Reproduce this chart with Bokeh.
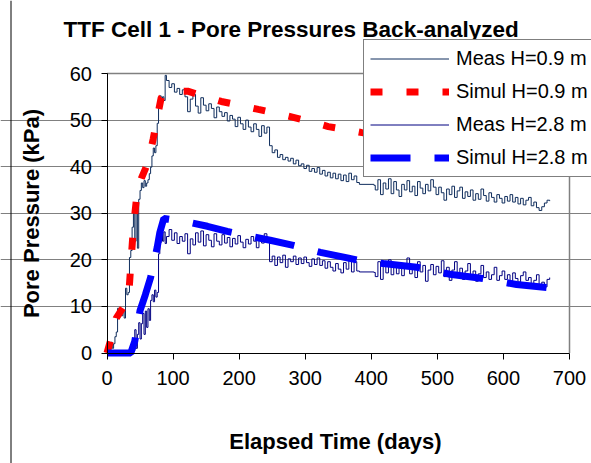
import math
from bokeh.plotting import figure
from bokeh.models import (Range1d, FixedTicker, Legend, LegendItem, Label, Span)
from bokeh.embed import file_html
from bokeh.resources import INLINE

# ---------------- data ----------------
x_ticks = [0, 100, 200, 300, 400, 500, 600, 700]
y_ticks = [0, 10, 20, 30, 40, 50, 60]

meas_days = [
    0, 2, 4, 6, 8, 10, 12, 14, 16, 18,
    20, 22, 24, 26, 28, 30, 32, 34, 36, 38,
    40, 42, 44, 46, 48, 50, 52, 54, 56, 58,
    60, 62, 64, 66, 68, 70, 72, 74, 76, 78,
    80, 82, 84, 86, 88,
    90, 94, 98, 102, 106, 110, 114, 118, 122, 126,
    130, 134, 138, 142, 146, 150, 154, 158, 162, 166,
    170, 174, 178, 182, 186, 190, 194, 198, 202, 206,
    210, 214, 218, 222, 226, 230, 234, 238, 242, 246,
    250, 254, 258, 262, 266, 270, 274, 278, 282, 286,
    290, 294, 298, 302, 306, 310, 314, 318, 322, 326,
    330, 334, 338, 342, 346, 350, 354, 358, 362, 366,
    370, 374, 378,
    382, 404,
    406, 410, 414, 418, 422, 426, 430, 434, 438, 442,
    446, 450, 454, 458, 462, 466, 470, 474, 478, 482,
    486, 490, 494, 498, 502, 506, 510, 514, 518, 522,
    526, 530, 534, 538, 542, 546, 550, 554, 558, 562,
    566, 570, 574, 578, 582, 586, 590, 594, 598, 602,
    606, 610, 614, 618, 622, 626, 630, 634, 638, 642,
    646, 650, 654, 658, 662, 666, 670,
]

meas_h09 = [
    0.5, 1.5, 0.8, 2.3, 1.0, 2.0, 3.5, 4.5, 9.6, 7.8,
    9.3, 8.0, 9.0, 7.5, 13.9, 12.5, 13.0, 20.5, 22.0, 27.0,
    31.0, 24.0, 32.0, 22.5, 33.0, 34.9, 36.5, 35.5, 37.0, 35.8,
    36.5, 37.2, 38.5, 39.9, 42.3, 44.0, 43.0, 44.5, 49.3, 53.8,
    55.2, 54.0, 55.0, 54.2, 59.6,
    58.5, 57.0, 57.8, 56.0, 56.8, 55.5, 56.5, 55.0, 51.8, 54.5,
    55.5, 53.0, 51.5, 54.8, 53.2, 52.0, 53.5, 52.5, 50.5, 52.8,
    51.8, 50.8, 51.6, 49.8, 51.0, 50.2, 48.6, 50.6, 49.2, 48.0,
    50.0, 48.5, 47.5, 49.2, 48.0, 46.5, 48.8, 47.2, 48.5, 44.5,
    43.0, 43.6, 42.0, 42.6, 41.5, 42.0, 41.2, 41.8, 40.6, 41.4,
    40.2, 40.6, 39.6, 40.3, 39.0, 39.6, 38.8, 39.8, 38.4, 39.2,
    38.0, 38.8, 37.6, 38.6, 37.4, 38.4, 37.0, 38.2, 36.8, 38.6,
    37.2, 38.0, 36.6,
    36.2, 36.0,
    35.0, 37.2, 34.0, 36.5, 35.2, 37.4, 34.2, 36.8, 35.0, 33.6,
    36.2, 35.0, 37.0, 34.6, 35.8, 33.8, 36.8, 35.4, 34.2, 36.2,
    34.8, 37.2, 35.6, 34.0, 35.6, 34.4, 32.8, 35.2, 34.0, 35.8,
    33.4, 34.8, 35.6, 33.2, 34.6, 33.6, 35.0, 32.8, 34.2, 33.0,
    35.2, 33.8, 32.6, 34.4, 33.4, 32.4, 34.0, 33.2, 32.2, 33.6,
    32.6, 34.0, 32.4, 33.4, 32.0, 33.2, 31.8, 32.8, 33.4, 31.6,
    32.4, 31.2, 30.6, 31.4, 32.2, 32.8, 32.6,
]

meas_h28 = [
    0.3, 0.0, 0.5, 0.0, 0.4, 0.0, 0.3, 0.0, 0.5, 0.2,
    0.0, 0.4, 0.0, 0.3, 0.0, 0.5, 0.2, 0.0, 0.6, 2.5,
    0.5, 5.0, 1.0, 4.0, 6.5, 3.0, 6.3, 8.5, 4.0, 9.0,
    5.5, 9.5, 7.0, 11.3, 12.5, 11.0, 13.5, 12.0, 13.0, 21.3,
    23.7, 25.5, 24.0, 26.0, 23.5,
    25.0, 26.5, 24.2, 25.8, 23.5, 25.0, 24.0, 25.6, 21.3, 24.5,
    23.2, 25.8, 23.8, 26.2, 23.0, 25.4, 24.2, 22.8, 25.6, 24.0,
    23.2, 25.4, 23.6, 24.8, 22.8, 24.6, 23.4, 25.2, 23.8, 22.6,
    24.4, 23.4, 25.0, 24.0, 22.6, 24.8, 23.6, 25.6, 24.6, 19.6,
    20.8, 18.8, 20.6, 19.4, 21.0, 18.4, 20.2, 19.6, 20.8, 19.0,
    20.4, 19.2, 20.6, 19.4, 18.6, 20.2, 19.0, 20.4, 18.8, 19.8,
    18.2, 19.6, 18.4, 17.6, 19.2, 18.0, 17.2, 19.4, 18.0, 20.0,
    17.4, 19.6, 17.6,
    17.4, 17.3,
    16.4, 19.6, 15.8, 18.6, 17.2, 20.0, 16.8, 18.4, 17.0, 19.4,
    16.6, 18.2, 20.4, 17.0, 18.6, 16.2, 19.6, 17.4, 18.8, 15.4,
    17.8, 19.0, 16.8, 18.6, 17.2, 19.8, 16.4, 18.4, 15.6, 17.8,
    19.6, 16.6, 18.2, 15.8, 17.6, 19.2, 16.4, 17.6, 15.4, 17.0,
    18.8, 16.2, 17.4, 15.8, 16.8, 18.4, 15.6, 16.6, 17.6, 15.8,
    16.8, 15.4, 17.2, 16.0, 15.2, 16.6, 17.4, 15.6, 16.2, 14.8,
    15.6, 16.8, 14.6, 15.2, 14.2, 15.8, 16.2,
]

simul09_days = [0, 8, 14, 20, 28, 33, 36, 40, 46, 52,
                58, 64, 70, 76, 82, 88, 100, 122, 150, 173,
                200, 229, 255, 282, 310, 335, 360, 386, 430, 480,
                530, 580, 630, 670]
simul09_kpa = [0, 4, 7.5, 8.8, 10.5, 12.5, 19.0, 27.0, 35.0, 37.5,
               39.5, 42.0, 46.0, 50.5, 54.8, 55.6, 56.2, 56.2, 55.0, 54.0,
               53.2, 52.3, 51.5, 50.6, 49.6, 48.6, 48.0, 47.3, 46.2, 45.0,
               43.8, 42.8, 41.8, 41.2]

simul28_days = [0, 20, 36, 42, 50, 58, 66, 76, 80, 86,
                100, 126, 152, 182, 222, 247, 282, 323, 378, 418,
                469, 519, 569, 620, 670]
simul28_kpa = [0, 0, 0, 2.5, 9.1, 12.5, 16.2, 22.7, 25.9, 28.9,
               28.6, 28.0, 27.2, 26.1, 24.9, 24.2, 23.1, 21.6, 20.0, 19.2,
               18.4, 16.9, 16.0, 14.7, 14.0]

series_names = ["Meas H=0.9 m", "Simul H=0.9 m", "Meas H=2.8 m", "Simul H=2.8 m"]
title_text = "TTF Cell 1 - Pore Pressures Back-analyzed"
x_title = "Elapsed Time (days)"
y_title = "Pore Pressure (kPa)"

# ---------------- layout (pixel geometry of the plot area) ----------------
W, H = 591, 463
FRAME_L, FRAME_R, FRAME_T, FRAME_B = 106.5, 569.0, 73.0, 352.5
X_MIN, X_MAX, Y_MIN, Y_MAX = 0, 700, 0, 60
SX = (FRAME_R - FRAME_L) / (X_MAX - X_MIN)
SY = (FRAME_B - FRAME_T) / (Y_MAX - Y_MIN)
X_START = X_MIN - FRAME_L / SX
X_END = X_START + W / SX
Y_TOP = Y_MAX + FRAME_T / SY
Y_BOT = Y_TOP - H / SY


def dx(px):
    return X_START + px / SX


def dy(py):
    return Y_TOP - py / SY


FONT = "Liberation Sans"

p = figure(width=W, height=H, output_backend="svg", toolbar_location=None,
           x_range=Range1d(X_START, X_END), y_range=Range1d(Y_BOT, Y_TOP),
           min_border=0, min_border_left=0, min_border_right=0,
           min_border_top=0, min_border_bottom=0)
p.background_fill_color = "white"
p.border_fill_color = "white"
p.outline_line_color = None

p.xgrid.visible = False
# inner grid lines; the top edge (60) is drawn by the plot-area border below
p.ygrid.ticker = FixedTicker(ticks=y_ticks[1:-1])
p.ygrid.bounds = (X_MIN, X_MAX)
p.ygrid.grid_line_color = "#808080"
p.ygrid.grid_line_width = 1

# plot-area border (grey, top and right edges)
p.line([X_MIN, X_MAX, X_MAX], [Y_MAX, Y_MAX, Y_MIN],
       line_color="#808080", line_width=1.5)
# outer chart border (black, left edge)
p.add_layout(Span(location=dx(10.5), dimension="height", line_color="black", line_width=1))

p.xaxis.ticker = FixedTicker(ticks=x_ticks)
p.yaxis.ticker = FixedTicker(ticks=y_ticks)
p.xaxis.fixed_location = Y_MIN
p.yaxis.fixed_location = X_MIN
p.xaxis.bounds = (X_MIN, X_MAX)
p.yaxis.bounds = (Y_MIN, Y_MAX)
for ax in (p.xaxis[0], p.yaxis[0]):
    ax.axis_line_color = "black"
    ax.axis_line_width = 1
    ax.major_tick_line_color = "black"
    ax.major_tick_in = 0
    ax.major_tick_out = 6
    ax.minor_tick_line_color = None
    ax.major_label_text_font = FONT
    ax.major_label_text_font_size = "20px"
    ax.major_label_text_color = "black"
p.xaxis.major_label_standoff = 12
p.yaxis.major_label_standoff = 9

r1 = p.step(meas_days, meas_h09, mode="after", line_color="#0F2D5C", line_width=1)
r2 = p.line(simul09_days, simul09_kpa, line_color="#FF0000", line_width=7,
            line_dash="12 24", line_cap="butt")
r3 = p.step(meas_days, meas_h28, mode="after", line_color="#000080", line_width=1)
r4 = p.line(simul28_days, simul28_kpa, line_color="#0000FF", line_width=7,
            line_dash="40 24", line_cap="butt")

legend = Legend(items=[LegendItem(label=series_names[0], renderers=[r1]),
                       LegendItem(label=series_names[1], renderers=[r2]),
                       LegendItem(label=series_names[2], renderers=[r3]),
                       LegendItem(label=series_names[3], renderers=[r4])],
                location=(363, H - 177))
legend.label_text_font = FONT
legend.label_text_font_size = "20px"
legend.label_text_color = "black"
legend.label_height = 25
legend.glyph_height = 25
legend.glyph_width = 79
legend.label_standoff = 7
legend.spacing = 8
legend.padding = 6
legend.margin = 0
legend.border_line_color = "black"
legend.border_line_width = 1
legend.background_fill_color = "white"
legend.background_fill_alpha = 1
p.add_layout(legend)

p.add_layout(Label(x=dx(63), y=dy(29), text=title_text, level="overlay",
                   text_font=FONT, text_font_style="bold", text_font_size="22.5px",
                   text_align="left", text_baseline="middle", text_color="black"))
p.add_layout(Label(x=dx(335), y=dy(441), text=x_title,
                   text_font=FONT, text_font_style="bold", text_font_size="22px",
                   text_align="center", text_baseline="middle", text_color="black"))
p.add_layout(Label(x=dx(31), y=dy(213), text=y_title, angle=math.pi / 2,
                   text_font=FONT, text_font_style="bold", text_font_size="22px",
                   text_align="center", text_baseline="middle", text_color="black"))

open("out.html", "w").write(file_html(p, INLINE))
